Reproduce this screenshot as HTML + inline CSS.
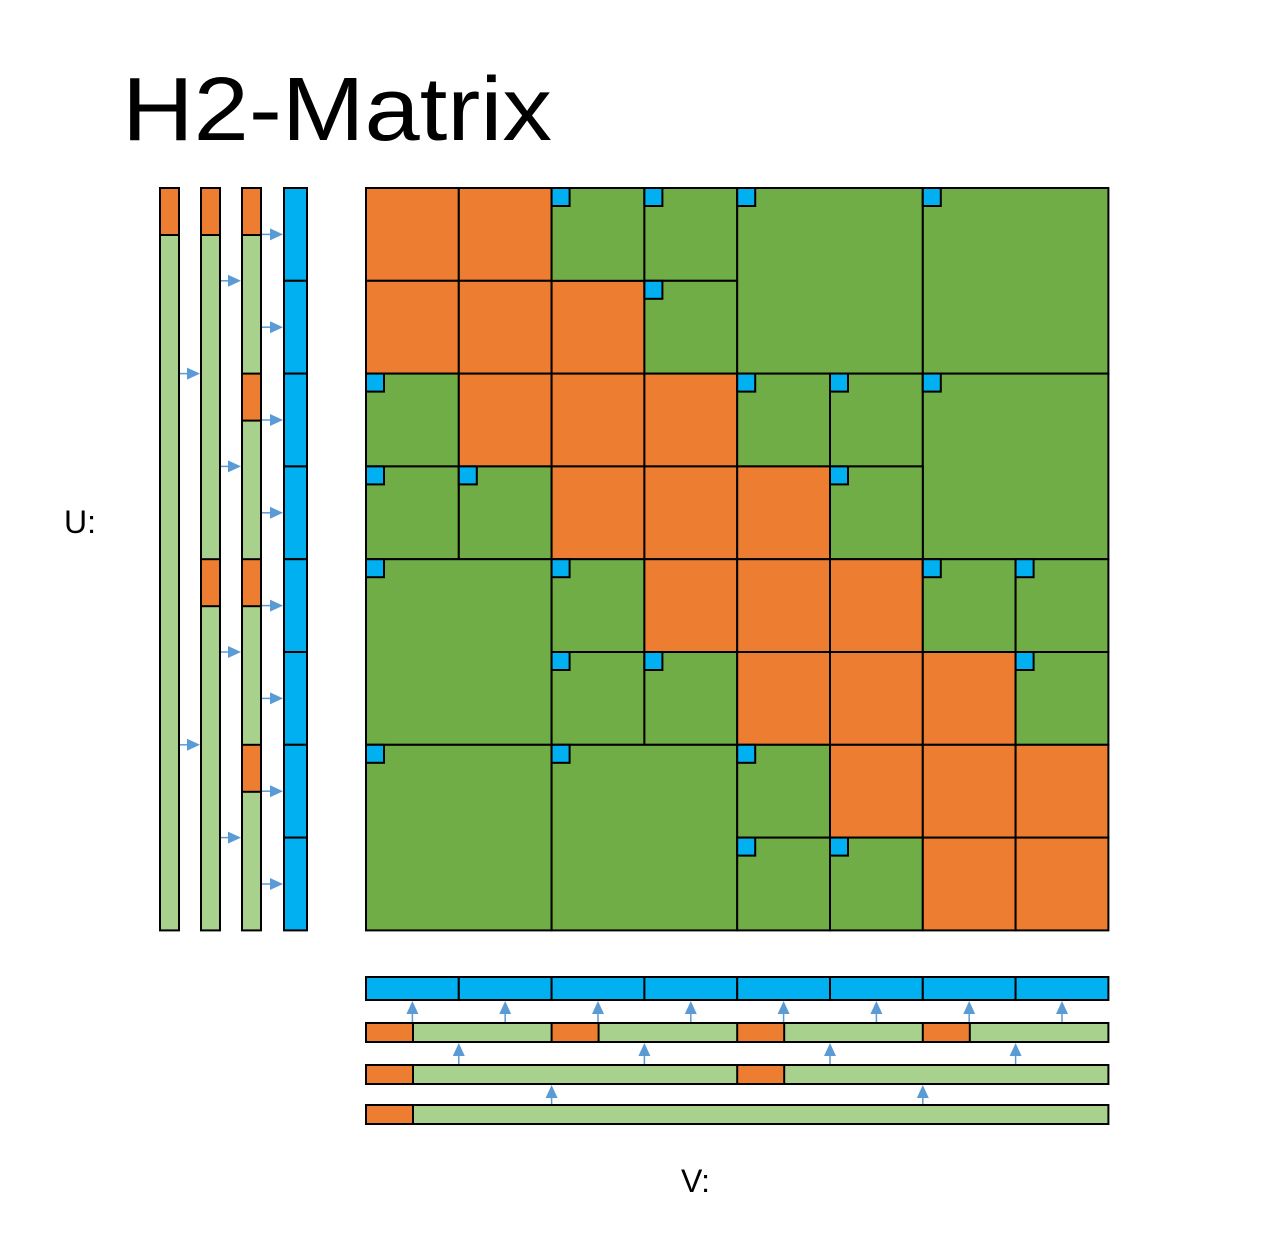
<!DOCTYPE html>
<html><head><meta charset="utf-8"><style>
html,body{margin:0;padding:0;background:#fff;}
svg{display:block;}
</style></head><body>
<svg id="fig" width="1266" height="1252" viewBox="0 0 1266 1252" xmlns="http://www.w3.org/2000/svg">
<text x="122" y="140" font-family="Liberation Sans, sans-serif" font-size="90" textLength="430" lengthAdjust="spacingAndGlyphs">H2-Matrix</text>
<text x="64" y="533" font-family="Liberation Sans, sans-serif" font-size="32">U:</text>
<text x="681" y="1192" font-family="Liberation Sans, sans-serif" font-size="32">V:</text>
<g id="g"></g>
</svg>
<script>
// blocks: [col,row,size,type] type: d=dense(orange), l=low-rank(green)
const blocks=[
[0,0,1,'d'],[1,0,1,'d'],[0,1,1,'d'],[1,1,1,'d'],[2,1,1,'d'],
[2,0,1,'l'],[3,0,1,'l'],[3,1,1,'l'],[4,0,2,'l'],[6,0,2,'l'],
[0,2,1,'l'],[1,2,1,'d'],[2,2,1,'d'],[3,2,1,'d'],[4,2,1,'l'],[5,2,1,'l'],[6,2,2,'l'],
[0,3,1,'l'],[1,3,1,'l'],[2,3,1,'d'],[3,3,1,'d'],[4,3,1,'d'],[5,3,1,'l'],
[0,4,2,'l'],[2,4,1,'l'],[3,4,1,'d'],[4,4,1,'d'],[5,4,1,'d'],[6,4,1,'l'],[7,4,1,'l'],
[2,5,1,'l'],[3,5,1,'l'],[4,5,1,'d'],[5,5,1,'d'],[6,5,1,'d'],[7,5,1,'l'],
[0,6,2,'l'],[2,6,2,'l'],[4,6,1,'l'],[5,6,1,'d'],[6,6,1,'d'],[7,6,1,'d'],
[4,7,1,'l'],[5,7,1,'l'],[6,7,1,'d'],[7,7,1,'d']
];
// U/V basis levels: orange segment positions (cell units) per level
const levelOrange=[[0],[0,4],[0,2,4,6]];
// transfer arrow positions (cell units) per level
const levelArrows=[[2,6],[1,3,5,7],[0.5,1.5,2.5,3.5,4.5,5.5,6.5,7.5]];
const NS='http://www.w3.org/2000/svg';
const g=document.getElementById('g');
const X0=366,Y0=188,C=92.8;
const OR='#ED7D31',GR='#70AD47',LG='#A9D18E',BL='#00B0F0',AR='#5B9BD5';
function el(t,a){const e=document.createElementNS(NS,t);for(const k in a)e.setAttribute(k,a[k]);g.appendChild(e);return e;}
function rect(x,y,w,h,f,sw){return el('rect',{x,y,width:w,height:h,fill:f,stroke:'#000','stroke-width':sw||2});}
blocks.forEach(b=>{
  const r=rect(X0+b[0]*C,Y0+b[1]*C,b[2]*C,b[2]*C,b[3]=='d'?OR:GR);
  
  
  if(b[3]=='l'){
    const s=rect(X0+b[0]*C,Y0+b[1]*C,18,18,BL);
    
    
  }
});
// U bars
const ux=[160,201,242];
const segH=47;
levelOrange.forEach((lv,i)=>{
  const x=ux[i],w=19;
  const b=rect(x,Y0,w,8*C,LG);
  
  
  lv.forEach(p=>{const o=rect(x,Y0+p*C,w,segH,OR);
    
    });
  levelArrows[i].forEach(p=>{
    const y=Y0+p*C;
    const ax=x+w+1, ex=(i<2?ux[i+1]:284)-1;
    const l=el('line',{x1:ax,y1:y,x2:ex-12,y2:y,stroke:AR,'stroke-width':1.5});
    
    
    const h=el('polygon',{points:`${ex-13},${y-6} ${ex},${y} ${ex-13},${y+6}`,fill:AR});
    
    
  });
});
for(let k=0;k<8;k++){const s=rect(284,Y0+k*C,23,C,BL);
  
  }
// V bars
const vy=[1105,1065,1023];
for(let k=0;k<8;k++){const s=rect(X0+k*C,977,C,23,BL);
  
  }
levelOrange.forEach((lv,i)=>{
  const y=vy[i],h=19;
  const b=rect(X0,y,8*C,h,LG);
  
  
  lv.forEach(p=>{const o=rect(X0+p*C,y,segH,h,OR);
    
    });
  levelArrows[i].forEach(p=>{
    const x=X0+p*C;
    const ay=y-1, ey=(i<2?vy[i+1]+h:1000)+1;
    const l=el('line',{x1:x,y1:ay,x2:x,y2:ey+12,stroke:AR,'stroke-width':1.5});
    
    
    const hd=el('polygon',{points:`${x-6},${ey+13} ${x},${ey} ${x+6},${ey+13}`,fill:AR});
    
    
  });
});
</script>
</body></html>
